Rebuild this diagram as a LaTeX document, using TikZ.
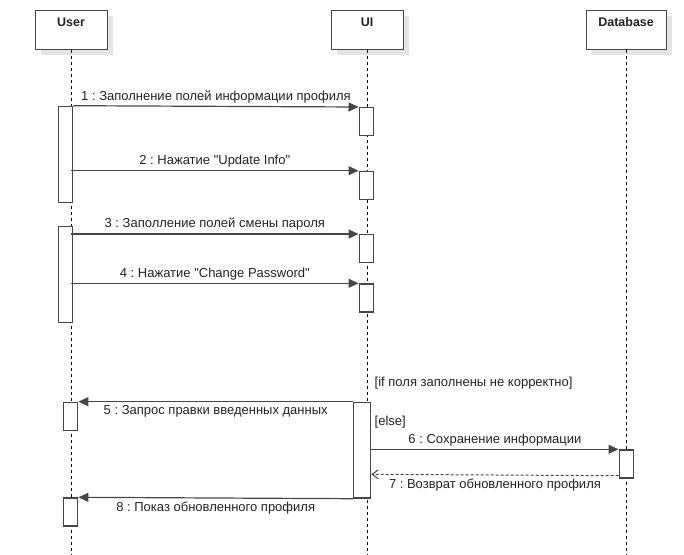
\documentclass[tikz,border=0pt]{standalone}
\usepackage{fontspec}
\setmainfont{Liberation Sans}[Ligatures=TeXOff]
\usetikzlibrary{arrows.meta,shadows}
\definecolor{ink}{RGB}{70,70,70}
\definecolor{txt}{RGB}{35,35,35}
\definecolor{shade}{RGB}{228,228,228}
\tikzset{
  actor/.style={draw=ink, line width=1.2pt, fill=white, minimum width=72pt, minimum height=39pt,
    inner sep=0pt, anchor=north west,
    general shadow={fill=shade, shadow xshift=6pt, shadow yshift=-6pt}},
  actorlabel/.style={font=\fontsize{12.5}{14}\selectfont\bfseries, text=txt},
  life/.style={draw=black, line width=0.7pt, dash pattern=on 3pt off 3pt},
  act/.style={draw=ink, line width=1.4pt, fill=white, minimum width=14pt, inner sep=0pt, anchor=north west},
  msg/.style={draw=ink, line width=1.2pt, -{Triangle[length=10pt,width=9pt]}},
  reply/.style={draw=ink, line width=1pt, dash pattern=on 3pt off 2pt, -{Straight Barb[length=6pt,width=9pt]}},
  lbl/.style={font=\fontsize{13}{15}\selectfont, text=txt, inner sep=1pt},
  guard/.style={font=\fontsize{13}{15}\selectfont, text=txt, inner sep=0pt, anchor=west},
}
\frenchspacing
\begin{document}
\begin{tikzpicture}[x=1pt,y=-1pt]
\useasboundingbox (0,0) rectangle (684,554);

% participants
\node[actor] (user) at (34.5,9.5) {};
\node[actor] (ui) at (330.5,9.5) {};
\node[actor, minimum width=80pt] (db) at (585.5,9.5) {};
\node[actorlabel] (userlbl) at (user.center |- 0,22) {User};
\node[actorlabel] (uilbl) at (ui.center |- 0,22) {UI};
\node[actorlabel] (dblbl) at (db.center |- 0,22) {Database};

% lifelines
\coordinate (userend) at (user.south |- 0,554);
\coordinate (uiend) at (ui.south |- 0,554);
\coordinate (dbend) at (db.south |- 0,554);
\draw[life] (user.south) -- (userend);
\draw[life] (ui.south) -- (uiend);
\draw[life] (db.south) -- (dbend);

% activations
\node[act, minimum height=96pt] (u1) at (58,105.7) {};
\node[act, minimum height=96pt] (u2) at (58,225.7) {};
\node[act, minimum height=28pt] (u5) at (63,401.7) {};
\node[act, minimum height=28pt] (u8) at (63,497.3) {};
\node[act, minimum height=27.5pt] (a1) at (358.5,107) {};
\node[act, minimum height=28pt] (a2) at (358.5,170.7) {};
\node[act, minimum height=28pt] (a3) at (358.5,234) {};
\node[act, minimum height=28pt] (a4) at (358.5,283.3) {};
\node[act, minimum width=17pt, minimum height=95.6pt] (ab) at (353,401.7) {};
\node[act, minimum height=28pt] (d1) at (618.5,449.3) {};

% messages
\draw[msg] (u1.north east) -- (a1.north west)
  node[lbl, midway, above=2pt] (m1) {1 : Заполнение полей информации профиля};
\draw[msg] (user.south |- a2.north) -- (a2.north west)
  node[lbl, midway, above=2pt] (m2) {2 : Нажатие "Update Info"};
\draw[msg] (user.south |- a3.north) -- (a3.north west)
  node[lbl, midway, above=2pt] (m3) {3 : Заполление полей смены пароля};
\draw[msg] (user.south |- a4.north) -- (a4.north west)
  node[lbl, midway, above=2pt] (m4) {4 : Нажатие "Change Password"};
\draw[msg] (ab.north west) -- (u5.north east)
  node[lbl, midway, below=2pt] (m5) {5 : Запрос правки введенных данных};
\draw[msg] (ab.east |- d1.north) -- (d1.north west)
  node[lbl, midway, above=2pt] (m6) {6 : Сохранение информации};
\draw[reply] ([yshift=3pt]d1.south west) -- (ab.east |- 0,474.3)
  node[lbl, midway, below=2pt] (m7) {7 : Возврат обновленного профиля};
\draw[msg] (ab.south west) -- (u8.north east)
  node[lbl, midway, below=2pt] (m8) {8 : Показ обновленного профиля};

% guards
\node[guard] (g1) at (374.5,383) {[if поля заполнены не корректно]};
\node[guard] (g2) at (374.5,421.7) {[else]};
\end{tikzpicture}
\end{document}
